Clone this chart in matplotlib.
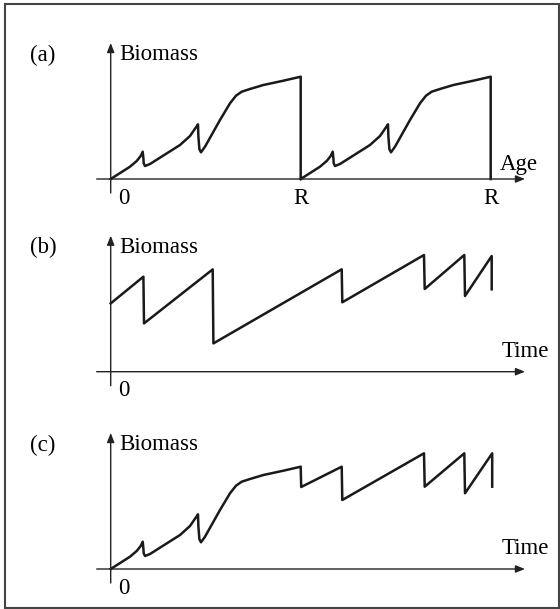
import matplotlib
matplotlib.use('Agg')
from matplotlib import pyplot as plt
from matplotlib.patches import Rectangle

# one harvest cycle of the stand: age -> biomass
cycle_age = [0, 19.3, 26, 30, 32, 32.7, 33, 34.3, 39.3, 69.3, 79.3, 85.3, 87.3,
             87.7, 88.7, 90.3, 94.3, 109.3, 119.3, 125.3, 131, 139.3, 152.7,
             172.7, 190, 190]
cycle_bio = [0, 12.3, 18, 23, 27.3, 20.7, 15.7, 13, 15, 34, 43, 51.7, 54.7,
             42.3, 29.7, 26.7, 32.3, 59, 75.7, 83.3, 87.3, 90, 94, 98.3,
             102.3, 0]
R = 190  # rotation age

# panel (b): selective cuttings
b_time = [0, 32.7, 33.3, 102, 102.7, 231, 231.6, 313.3, 314, 353.6, 354.3, 381, 381]
b_bio = [68.3, 95, 48.3, 102.3, 28.3, 102.4, 69.4, 116.7, 82.7, 116.7, 75.7, 115.7, 82.4]

# panel (c): even-aged growth, then cuttings
c_tail_time = [190.5, 231, 231.6, 313.3, 314, 353.6, 354.3, 381.5, 381.5]
c_tail_bio = [82, 102.3, 69, 115.7, 82.3, 115.7, 75.7, 115.7, 82.3]

W, H = 560, 609
ox = 110.7
origins = {'a': 179, 'b': 371.7, 'c': 569}

plt.rcParams['font.family'] = 'Liberation Serif'
fig = plt.figure(figsize=(W / 100, H / 100), dpi=100)


def panel(key, xlabel):
    oy = origins[key]
    ax = fig.add_axes([0, 0, 1, 1])
    ax.set_xlim(-ox, W - ox)
    ax.set_ylim(oy - H, oy)
    ax.axis('off')
    ax.patch.set_alpha(0)
    arr = dict(arrowstyle='-|>,head_length=0.55,head_width=0.22', lw=1.0,
               color='#222222', shrinkA=0, shrinkB=0)
    ax.annotate('', xy=(414.3, 0), xytext=(-14, 0), arrowprops=arr)
    ax.annotate('', xy=(0, 136), xytext=(0, -14), arrowprops=arr)
    ax.text(-67.7, 124, '(%s)' % key, fontsize=16.5, ha='center', va='center')
    ax.text(8.3, 124, 'Biomass', fontsize=16.5, ha='left', va='center')
    ax.text(13.3, -19, '0', fontsize=16.5, ha='center', va='center')
    if key == 'a':
        ax.text(389.3, 9, xlabel, fontsize=16.5, ha='left', va='baseline')
    else:
        ax.text(391, 15, xlabel, fontsize=16.5, ha='left', va='baseline')
    return ax


ax = panel('a', 'Age')
ax.plot(cycle_age, cycle_bio, color='#1a1a1a', lw=1.8, solid_joinstyle='round')
ax.plot([a + R for a in cycle_age], cycle_bio, color='#1a1a1a', lw=1.8,
        solid_joinstyle='round')
ax.text(R, -20, 'R', fontsize=16.5, ha='center', va='center')
ax.text(2 * R, -20, 'R', fontsize=16.5, ha='center', va='center')

ax = panel('b', 'Time')
ax.plot(b_time, b_bio, color='#1a1a1a', lw=1.8, solid_joinstyle='round')

ax = panel('c', 'Time')
ax.plot(cycle_age[:-1] + c_tail_time, cycle_bio[:-1] + c_tail_bio,
        color='#1a1a1a', lw=1.8, solid_joinstyle='round')

fig.patches.append(Rectangle((5 / W, 1 - 608 / H), 554 / W, 604 / H,
                             transform=fig.transFigure, fill=False,
                             ec='#444444', lw=1.5))

fig.savefig('out.png', dpi=100)
